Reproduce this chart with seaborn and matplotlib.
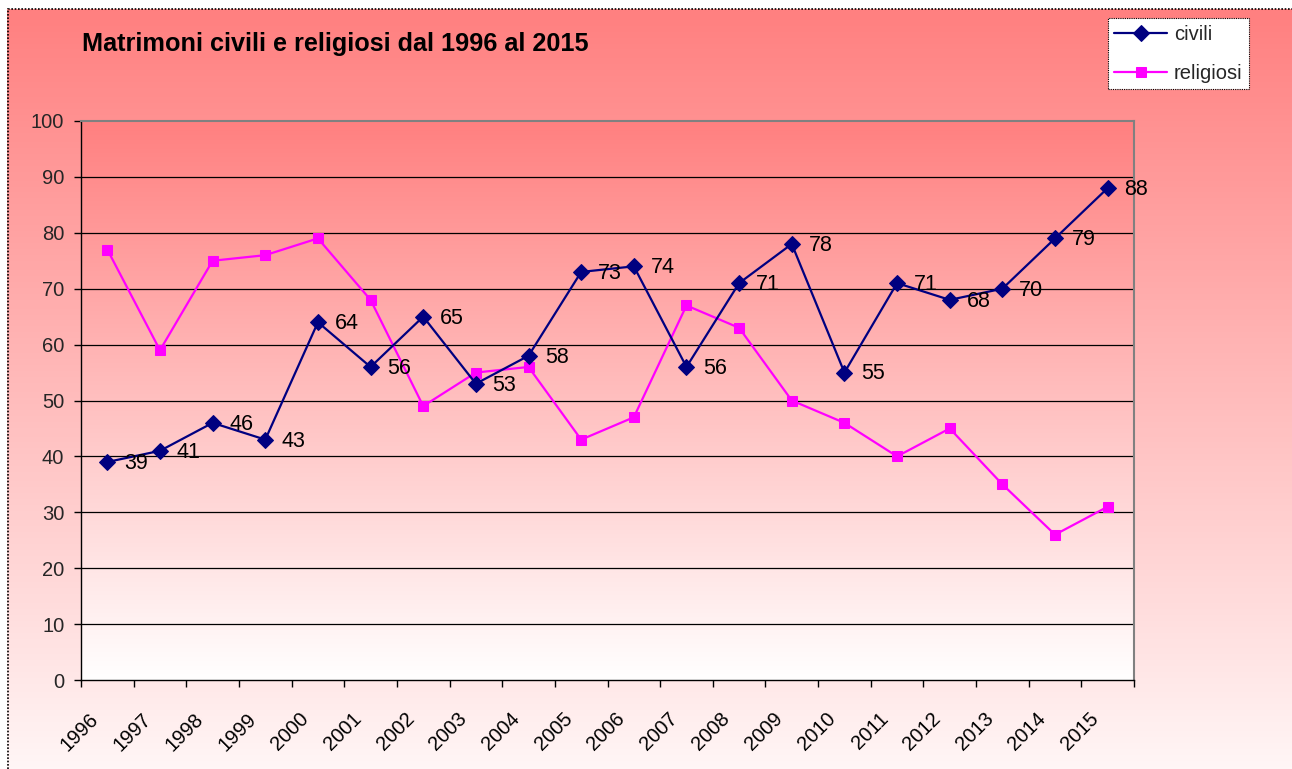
import numpy as np
import matplotlib
matplotlib.use("Agg")
import matplotlib.pyplot as plt
from matplotlib.colors import LinearSegmentedColormap
from matplotlib.patches import Rectangle
import seaborn as sns

years = ["1996", "1997", "1998", "1999", "2000", "2001", "2002", "2003", "2004", "2005",
         "2006", "2007", "2008", "2009", "2010", "2011", "2012", "2013", "2014", "2015"]
civili = [39, 41, 46, 43, 64, 56, 65, 53, 58, 73, 74, 56, 71, 78, 55, 71, 68, 70, 79, 88]
religiosi = [77, 59, 75, 76, 79, 68, 49, 55, 56, 43, 47, 67, 63, 50, 46, 40, 45, 35, 26, 31]
title = "Matrimoni civili e religiosi dal 1996 al 2015"

sns.set_theme(style="white")
plt.rcParams['font.family'] = ['Liberation Sans', 'DejaVu Sans']

W, H = 1292, 769
fig = plt.figure(figsize=(W / 100, H / 100), dpi=100)
fig.patch.set_facecolor("white")
PX = 72 / 100  # points per pixel

cmap = LinearSegmentedColormap.from_list("grad", ["#FF8080", "#FFFFFF"])

# outer chart-area gradient
bg = fig.add_axes([7 / W, 0, 1 - 7 / W, 1 - 9 / H])
grad = np.linspace(0, 1, 256).reshape(-1, 1)
bg.imshow(grad, cmap=cmap, aspect="auto", extent=(0, 1, 0, 1), origin="upper",
          vmin=0, vmax=1.08)
bg.set_axis_off()
bg.add_patch(Rectangle((0.0005, -0.01), 1.1, 1.0095, transform=bg.transAxes,
                       fill=False, edgecolor="black", linestyle=(0, (1, 1)),
                       linewidth=1.2, clip_on=False))

left, right, top, bottom = 81, 1134, 121, 680
ax = fig.add_axes([left / W, 1 - bottom / H, (right - left) / W, (bottom - top) / H])
x = np.arange(len(years))
ax.imshow(grad, cmap=cmap, aspect="auto", extent=(-0.5, len(years) - 0.5, 0, 100),
          origin="upper", zorder=0, vmin=0, vmax=1.0)

sns.lineplot(x=x, y=civili, ax=ax, color="#000080", marker="D", markersize=8.5,
             markeredgecolor="#000080", linewidth=1.6, label="civili", zorder=3)
sns.lineplot(x=x, y=religiosi, ax=ax, color="#FF00FF", marker="s", markersize=7.5,
             markeredgecolor="#FF00FF", linewidth=1.6, label="religiosi", zorder=2)

for xi, v in zip(x, civili):
    ax.annotate(str(v), (xi, v), xytext=(12, -1), textcoords="offset points",
                ha="left", va="center", fontsize=15.5, color="black", zorder=4)

ax.set_xlim(-0.5, len(years) - 0.5)
ax.set_ylim(0, 100)
ax.set_yticks(np.arange(0, 101, 10))
ax.set_yticklabels([str(v) for v in range(0, 101, 10)], fontsize=14.5)
for yv in range(10, 100, 10):
    ax.axhline(yv, color="black", linewidth=0.9, zorder=1)

# category labels (rotated, Excel-like placement)
ax.set_xticks(np.arange(-0.5, len(years), 1.0))
ax.set_xticklabels([])
for xi, lab in zip(x, years):
    ax.annotate(lab, (xi, 0), xytext=(-12 * PX, -36 * PX), textcoords="offset points",
                rotation=45, rotation_mode="anchor", ha="right", va="center",
                fontsize=14.5, color="black", annotation_clip=False)
ax.tick_params(axis="x", which="major", length=5, width=1, color="black", direction="out",
               bottom=True)
ax.tick_params(axis="y", which="major", length=5, width=1, color="black", direction="out",
               pad=7, left=True)
ax.set_xlabel("")
ax.set_ylabel("")

for side in ["left", "bottom"]:
    ax.spines[side].set_color("black")
    ax.spines[side].set_linewidth(1.0)
for side in ["top", "right"]:
    ax.spines[side].set_color("#808080")
    ax.spines[side].set_linewidth(1.5)
    ax.spines[side].set_visible(True)

handles, labels = ax.get_legend_handles_labels()
ax.get_legend().remove()
leg = fig.legend(handles, labels, loc="upper right",
                 bbox_to_anchor=(1249 / W, 1 - 18 / H), fontsize=14.5,
                 frameon=True, fancybox=False, framealpha=1, edgecolor="black",
                 handlelength=2.6, borderpad=0.33, labelspacing=1.0, handletextpad=0.35,
                 borderaxespad=0)
leg.get_frame().set_linewidth(0.8)
leg.get_frame().set_linestyle((0, (1, 1)))

fig.text(82 / W, 1 - 44 / H, title, fontsize=18.2, fontweight="bold",
         ha="left", va="center", color="black")

fig.savefig("out.png", dpi=100)
